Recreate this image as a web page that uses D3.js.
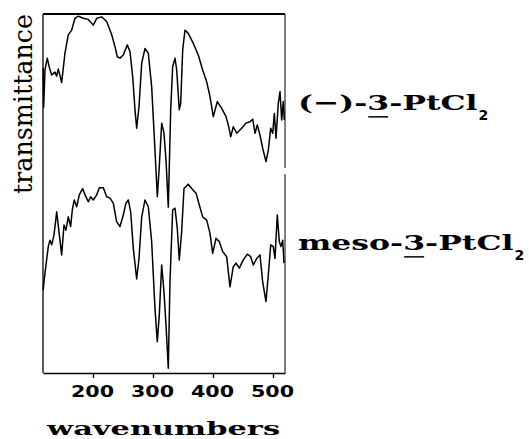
<!DOCTYPE html>
<html>
<head>
<meta charset="utf-8">
<script src="https://cdn.jsdelivr.net/npm/d3@7"></script>
<style>
  body { margin: 0; background: #fff; }
  svg { display: block; }
</style>
</head>
<body>
<svg></svg>
<script>
// (-)-3-PtCl2 spectrum, wavenumber / transmittance (arbitrary units, offset trace)
const minusWn = [117.0, 117.8, 120.0, 123.8, 127.5, 131.2, 136.7, 139.5, 142.2, 147.8, 153.3, 158.8, 164.5, 170.0, 175.5, 183.8, 192.2, 200.5, 206.2, 214.5, 222.8, 231.2, 236.7, 240.5, 245.0, 250.5, 257.2, 261.7, 266.2, 270.0, 272.8, 276.7, 281.2, 286.7, 292.2, 297.8, 303.3, 307.2, 310.5, 314.5, 318.3, 321.7, 325.5, 329.5, 332.8, 336.7, 339.5, 343.8, 346.2, 349.5, 353.3, 358.8, 367.2, 375.5, 382.8, 389.5, 395.0, 400.5, 407.2, 414.5, 421.7, 425.5, 429.5, 433.8, 439.5, 447.8, 455.0, 461.7, 466.2, 470.0, 473.8, 478.3, 482.8, 488.3, 492.2, 496.2, 499.5, 502.2, 505.0, 508.8, 511.7, 514.5, 517.2, 518.8];
const minusT = [85.0, 74.0, 84.4, 87.7, 85.0, 83.0, 83.8, 82.7, 84.7, 80.9, 89.1, 94.2, 95.5, 98.8, 99.4, 98.8, 98.5, 96.9, 98.8, 99.2, 97.9, 94.2, 90.9, 88.1, 87.7, 88.6, 91.4, 89.5, 82.5, 73.3, 68.2, 74.2, 86.3, 90.4, 89.1, 79.7, 62.1, 49.1, 57.5, 69.6, 66.9, 59.3, 46.2, 73.3, 85.3, 87.7, 84.4, 73.3, 75.2, 90.0, 95.5, 94.6, 91.8, 88.6, 84.4, 81.1, 77.0, 71.4, 75.6, 73.7, 71.4, 69.1, 65.8, 68.6, 66.8, 68.2, 69.6, 70.0, 70.7, 66.8, 69.1, 66.3, 62.6, 58.9, 62.1, 68.2, 66.8, 72.3, 65.4, 75.1, 78.4, 70.5, 75.6, 70.5];

// meso-3-PtCl2 spectrum
const mesoWn = [117.0, 118.3, 121.7, 125.5, 128.3, 131.2, 135.0, 139.5, 143.3, 147.8, 151.7, 155.0, 158.8, 162.8, 165.5, 168.8, 172.8, 177.2, 182.8, 186.7, 192.2, 196.2, 200.5, 206.2, 210.5, 217.2, 222.8, 228.3, 233.8, 239.5, 245.0, 250.5, 255.0, 258.8, 262.8, 267.2, 272.8, 276.7, 281.2, 286.7, 292.2, 297.8, 303.3, 307.2, 310.5, 314.5, 318.3, 321.7, 325.5, 328.3, 332.8, 336.7, 340.5, 343.8, 347.8, 351.7, 358.8, 364.5, 371.7, 377.2, 382.8, 389.5, 395.0, 399.5, 405.0, 410.5, 416.2, 422.8, 428.3, 433.8, 438.3, 443.8, 450.5, 457.2, 462.8, 467.2, 472.8, 478.3, 482.8, 488.3, 492.2, 496.2, 500.5, 503.3, 507.2, 510.5, 513.3, 516.2, 518.3];
const mesoT = [23.1, 25.4, 30.1, 35.2, 37.0, 35.7, 38.4, 44.9, 39.4, 32.9, 41.2, 39.8, 43.5, 40.8, 45.4, 48.2, 46.3, 49.6, 51.4, 49.6, 47.7, 49.1, 48.2, 49.6, 51.6, 51.6, 49.1, 48.7, 47.3, 42.1, 40.8, 44.0, 47.3, 48.2, 44.9, 34.7, 26.2, 31.9, 43.5, 48.2, 46.3, 36.6, 18.0, 8.7, 16.2, 30.1, 22.6, 13.4, 1.3, 25.4, 45.4, 45.9, 40.3, 31.5, 39.4, 51.4, 52.6, 51.4, 50.1, 46.8, 43.5, 42.6, 38.9, 33.3, 37.5, 36.6, 33.8, 32.4, 24.0, 29.6, 30.6, 29.2, 31.5, 33.1, 32.4, 30.1, 31.9, 32.9, 25.4, 19.9, 27.3, 35.7, 35.2, 31.9, 44.0, 36.6, 35.2, 37.0, 30.6];

const seriesNames = ['(\u2212)-3-PtCl', 'meso-3-PtCl'];
const seriesSub = '2';
const seriesLabelT = [73.3, 34.3];   // where each name sits on the y scale
const xTicks = [200, 300, 400, 500];
const xDomain = [116.7, 520];
const yDomain = [0, 100];

const xAxisLabelText = 'wavenumbers';
const yAxisLabelText = 'transmittance';

const margin = { top: 14, right: 244, bottom: 66, left: 43 };
const width = 529 - margin.left - margin.right;
const height = 439 - margin.top - margin.bottom;

const svg = d3.select('svg')
  .attr('width', 529)
  .attr('height', 439);

const chart = svg.append('g')
  .attr('transform', `translate(${margin.left}, ${margin.top})`);

const xScale = d3.scaleLinear().domain(xDomain).range([0, width]);
const yScale = d3.scaleLinear().domain(yDomain).range([height, 0]);

//frame (right side is broken between the two traces)
const frame = chart.append('g')
  .attr('stroke', '#000')
  .attr('stroke-width', 1.3)
  .attr('fill', 'none');

frame.append('line')
  .attr('x1', 0).attr('x2', 0)
  .attr('y1', yScale(100)).attr('y2', yScale(0));
frame.append('line')
  .attr('x1', 0).attr('x2', xScale(xDomain[1]))
  .attr('y1', yScale(100)).attr('y2', yScale(100))
  .attr('stroke-width', 1.8);
[[100, 57.1], [55.4, 0]].forEach(seg => {
  frame.append('line')
    .attr('x1', xScale(xDomain[1])).attr('x2', xScale(xDomain[1]))
    .attr('y1', yScale(seg[0])).attr('y2', yScale(seg[1]))
    .attr('stroke-width', 1);
});

//xaxis
const xAxis = chart.append('g')
  .attr('transform', `translate(0, ${height})`)
  .call(d3.axisBottom(xScale).tickValues(xTicks).tickSize(5).tickSizeOuter(0));

xAxis.select('.domain').attr('stroke-width', 1.5);
xAxis.selectAll('.tick line').attr('stroke-width', 1.3);
xAxis.selectAll('.tick text')
  .attr('y', 24)
  .attr('dy', null)
  .attr('x', -1)
  .attr('fill', '#000')
  .style('font-family', '"DejaVu Sans"')
  .style('font-weight', 'bold')
  .style('font-size', '16px')
  .attr('textLength', 43)
  .attr('lengthAdjust', 'spacingAndGlyphs');

//spectra
const line = d3.line()
  .x(d => xScale(d[0]))
  .y(d => yScale(d[1]));

const spectra = [d3.zip(minusWn, minusT), d3.zip(mesoWn, mesoT)];

chart.selectAll('.spectrum')
  .data(spectra)
  .enter()
  .append('path')
  .attr('class', 'spectrum')
  .attr('d', line)
  .attr('fill', 'none')
  .attr('stroke', '#000')
  .attr('stroke-width', 1.5)
  .attr('stroke-linejoin', 'round');

//series names, stretched wide like the typewriter face of the original
seriesNames.forEach((name, i) => {
  const yPos = yScale(seriesLabelT[i]);
  const t = chart.append('text')
    .attr('x', width + 13)
    .attr('y', yPos)
    .style('font-family', '"DejaVu Serif"')
    .style('font-weight', 'bold')
    .style('font-size', '21px')
    .text(name);
  const natural = t.node().getComputedTextLength();
  t.attr('textLength', natural * 1.5).attr('lengthAdjust', 'spacingAndGlyphs');

  // underline the compound number
  const idx = name.indexOf('3');
  const box = t.node().getExtentOfChar(idx);
  chart.append('line')
    .attr('x1', box.x + 1).attr('x2', box.x + box.width - 1)
    .attr('y1', yPos + 7).attr('y2', yPos + 7)
    .attr('stroke', '#000')
    .attr('stroke-width', 1.5);

  const end = t.node().getExtentOfChar(name.length - 1);
  chart.append('text')
    .attr('x', end.x + end.width + 1)
    .attr('y', yPos + 10)
    .style('font-family', '"DejaVu Sans"')
    .style('font-weight', 'bold')
    .style('font-size', '14px')
    .text(seriesSub);
});

//xtitle
svg.append('text')
  .attr('x', 47)
  .attr('y', 435)
  .style('font-family', '"DejaVu Serif"')
  .style('font-weight', 'bold')
  .style('font-size', '19px')
  .attr('textLength', 233)
  .attr('lengthAdjust', 'spacingAndGlyphs')
  .text(xAxisLabelText);

//ytitle
svg.append('text')
  .attr('transform', `translate(32, ${margin.top + 90}) rotate(-90)`)
  .attr('x', -90)
  .attr('y', 0)
  .style('font-family', '"DejaVu Serif"')
  .style('font-size', '26px')
  .attr('textLength', 180)
  .attr('lengthAdjust', 'spacingAndGlyphs')
  .text(yAxisLabelText);
</script>
</body>
</html>
